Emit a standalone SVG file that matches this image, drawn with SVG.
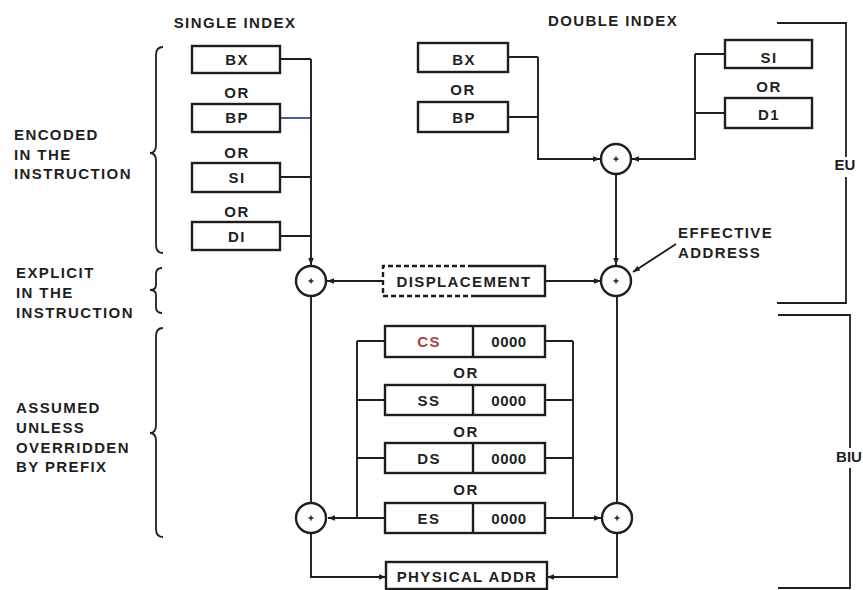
<svg xmlns="http://www.w3.org/2000/svg" width="863" height="590" viewBox="0 0 863 590">
<defs>
<style>
text{font-family:"Liberation Sans",Arial,sans-serif;font-weight:bold;font-size:15px;letter-spacing:1.4px;fill:#1f1f1f}
.m{text-anchor:middle}
.box{fill:none;stroke:#1e1e1e;stroke-width:2.4}
.ln{fill:none;stroke:#1e1e1e;stroke-width:1.9}
.add{fill:#fff;stroke:#1e1e1e;stroke-width:2.4}
.plus{fill:none;stroke:#1e1e1e;stroke-width:1.4}
.br{fill:none;stroke:#1e1e1e;stroke-width:1.8}
</style>
<marker id="ah" viewBox="0 0 10 10" refX="10" refY="5" markerWidth="7" markerHeight="7" markerUnits="userSpaceOnUse" orient="auto">
<path d="M0 1 L10 5 L0 9 Z" fill="#1e1e1e"/>
</marker>
<g id="adder">
<circle r="15" class="add"/>
<path class="plus" d="M-2.5 0 H2.5 M0 -2.5 V2.5"/>
</g>
</defs>
<rect width="863" height="590" fill="#fff"/>

<g id="labels">
<text x="235" y="28" class="m">SINGLE INDEX</text>
<text x="613" y="26" class="m">DOUBLE INDEX</text>
<text x="14" y="140">ENCODED</text>
<text x="14" y="160">IN THE</text>
<text x="14" y="179">INSTRUCTION</text>
<text x="16" y="278">EXPLICIT</text>
<text x="16" y="298">IN THE</text>
<text x="16" y="318">INSTRUCTION</text>
<text x="16" y="413">ASSUMED</text>
<text x="16" y="433">UNLESS</text>
<text x="16" y="453">OVERRIDDEN</text>
<text x="16" y="472">BY PREFIX</text>
<text x="678" y="238">EFFECTIVE</text>
<text x="678" y="258">ADDRESS</text>
<text x="845" y="170" class="m" style="letter-spacing:0">EU</text>
<text x="849" y="462" class="m" style="letter-spacing:0">BIU</text>
<text x="237" y="98" class="m">OR</text>
<text x="237" y="158" class="m">OR</text>
<text x="237" y="217" class="m">OR</text>
<text x="463" y="95" class="m">OR</text>
<text x="769" y="92" class="m">OR</text>
<text x="466" y="378" class="m">OR</text>
<text x="466" y="437" class="m">OR</text>
<text x="466" y="495" class="m">OR</text>
</g>

<g id="braces">
<path class="br" d="M163 47 Q156 47 156 55 V145 Q156 153 150 153 Q156 153 156 161 V245 Q156 253 163 253"/>
<path class="br" d="M162 268 Q156 268 156 274 V285 Q156 290 150 290 Q156 290 156 295 V307 Q156 313 162 313"/>
<path class="br" d="M163 328 Q156 328 156 336 V425 Q156 433 150 433 Q156 433 156 441 V529 Q156 537 163 537"/>
<path class="br" d="M777 23 H846 V157 M846 177 V303 H777"/>
<path class="br" d="M778 315 H850 V448 M850 468 V588 H778"/>
</g>

<g id="connectors">
<path class="ln" d="M280 59 H311 M280 177 H311 M280 236 H311"/>
<path class="ln" d="M280 118 H311" style="stroke:#3b5b92"/>
<path class="ln" d="M311 59 V265" marker-end="url(#ah)"/>
<path class="ln" d="M508 57 H538 M508 117 H538"/>
<path class="ln" d="M538 57 V159 H600" marker-end="url(#ah)"/>
<path class="ln" d="M725 54 H695 M725 113 H695"/>
<path class="ln" d="M695 54 V159 H632" marker-end="url(#ah)"/>
<path class="ln" d="M616 174 V265" marker-end="url(#ah)"/>
<path class="ln" d="M383 281 H327" marker-end="url(#ah)"/>
<path class="ln" d="M545 281 H601" marker-end="url(#ah)"/>
<path class="ln" d="M676 244 L633 272" marker-end="url(#ah)"/>
<path class="ln" d="M311 296 V503"/>
<path class="ln" d="M617 296 V503"/>
<path class="ln" d="M385 341 H357 M385 400 H357 M385 458 H357 M357 341 V518"/>
<path class="ln" d="M385 518 H328" marker-end="url(#ah)"/>
<path class="ln" d="M545 341 H573 M545 400 H573 M545 458 H573 M573 341 V518"/>
<path class="ln" d="M545 518 H601" marker-end="url(#ah)"/>
<path class="ln" d="M311 533 V577 H386" marker-end="url(#ah)"/>
<path class="ln" d="M617 533 V577 H547" marker-end="url(#ah)"/>
</g>

<g id="single-bx"><rect class="box" x="192" y="46" width="88" height="27"/><text x="237" y="65" class="m">BX</text></g>
<g id="single-bp"><rect class="box" x="192" y="104" width="88" height="28"/><text x="237" y="123" class="m">BP</text></g>
<g id="single-si"><rect class="box" x="192" y="163" width="88" height="29"/><text x="237" y="183" class="m">SI</text></g>
<g id="single-di"><rect class="box" x="192" y="222" width="88" height="28"/><text x="237" y="242" class="m">DI</text></g>

<g id="double-bx"><rect class="box" x="418" y="43" width="90" height="29"/><text x="464" y="65" class="m">BX</text></g>
<g id="double-bp"><rect class="box" x="418" y="102" width="90" height="30"/><text x="464" y="123" class="m">BP</text></g>
<g id="double-si"><rect class="box" x="725" y="40" width="87" height="28"/><text x="769" y="63" class="m">SI</text></g>
<g id="double-d1"><rect class="box" x="725" y="98" width="87" height="30"/><text x="769" y="120" class="m">D1</text></g>

<g id="adder-double"><use href="#adder" x="616" y="159"/></g>
<g id="adder-ea"><use href="#adder" x="616" y="281"/></g>
<g id="adder-single"><use href="#adder" x="311" y="281"/></g>
<g id="adder-left-seg"><use href="#adder" x="311" y="518"/></g>
<g id="adder-right-seg"><use href="#adder" x="617" y="518"/></g>

<g id="displacement">
<path class="box" d="M473 266 H383 V296 H473" stroke-dasharray="5 3"/>
<path class="box" d="M473 266 H545 V296 H473"/>
<text x="464" y="287" class="m">DISPLACEMENT</text>
</g>

<g id="seg-cs"><rect class="box" x="385" y="326" width="160" height="31"/><path class="box" d="M473 326 V357"/><text x="429" y="347" class="m" style="fill:#a8423e">CS</text><text x="509" y="347" class="m" style="letter-spacing:0.5px">0000</text></g>
<g id="seg-ss"><rect class="box" x="385" y="385" width="160" height="30"/><path class="box" d="M473 385 V415"/><text x="429" y="406" class="m">SS</text><text x="509" y="406" class="m" style="letter-spacing:0.5px">0000</text></g>
<g id="seg-ds"><rect class="box" x="385" y="443" width="160" height="30"/><path class="box" d="M473 443 V473"/><text x="429" y="464" class="m">DS</text><text x="509" y="464" class="m" style="letter-spacing:0.5px">0000</text></g>
<g id="seg-es"><rect class="box" x="385" y="503" width="160" height="30"/><path class="box" d="M473 503 V533"/><text x="429" y="524" class="m">ES</text><text x="509" y="524" class="m" style="letter-spacing:0.5px">0000</text></g>

<g id="physical"><rect class="box" x="386" y="562" width="161" height="27"/><text x="467" y="582" class="m">PHYSICAL ADDR</text></g>
</svg>
